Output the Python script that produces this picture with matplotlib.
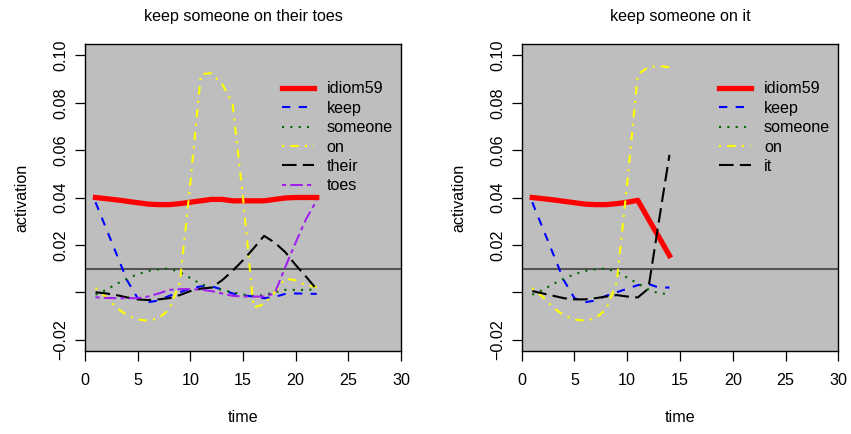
import numpy as np
import matplotlib
matplotlib.use("Agg")
import matplotlib.pyplot as plt

plt.rcParams['font.family'] = ['Liberation Sans', 'DejaVu Sans']

# ---------------- data ----------------
time_left = list(range(1, 23))
idiom_left = [0.0400, 0.0395, 0.0390, 0.0384, 0.0378, 0.0372, 0.0370, 0.0370, 0.0374, 0.0380, 0.0386,
              0.0392, 0.0392, 0.0386, 0.0386, 0.0386, 0.0386, 0.0392, 0.0398, 0.0400, 0.0400, 0.0400]
keep_left = [0.038, 0.027, 0.016, 0.005, -0.0025, -0.0042, -0.0035, -0.0015, 0.0, 0.0015, 0.0025,
             0.0025, 0.0012, -0.0005, -0.0013, -0.0018, -0.0025, -0.002, -0.0007, -0.0005, -0.0006, -0.0007]
someone_left = [-0.001, 0.001, 0.0035, 0.0058, 0.0076, 0.009, 0.0097, 0.010, 0.0085, 0.006, 0.0035,
                0.002, 0.001, 0.0, -0.001, -0.0015, -0.0012, 0.0, 0.001, 0.001, 0.001, 0.0012]
on_left = [0.0018, -0.002, -0.0065, -0.0098, -0.0115, -0.012, -0.011, -0.0072, 0.004, 0.046, 0.092,
           0.0925, 0.088, 0.080, 0.040, -0.0065, -0.005, 0.0, 0.0058, 0.005, 0.003, 0.0022]
their_left = [0.0, -0.0005, -0.0012, -0.0022, -0.003, -0.0033, -0.003, -0.0025, -0.0012, 0.0005, 0.0015,
              0.002, 0.005, 0.009, 0.0135, 0.0185, 0.0238, 0.021, 0.017, 0.0115, 0.0065, 0.0012]
toes_left = [-0.0021, -0.0024, -0.0025, -0.0025, -0.0025, -0.0018, -0.0005, 0.001, 0.0013, 0.0013, 0.0011,
             0.0005, -0.0005, -0.0015, -0.0018, -0.0018, -0.0018, -0.0005, 0.0105, 0.021, 0.031, 0.0388]

time_right = list(range(1, 15))
idiom_right = [0.0400, 0.0395, 0.0390, 0.0384, 0.0378, 0.0372, 0.0370, 0.0370, 0.0374, 0.0380, 0.0388,
               0.0310, 0.0233, 0.0155]
keep_right = [0.038, 0.027, 0.016, 0.005, -0.0025, -0.0042, -0.0035, -0.0015, 0.0, 0.0015, 0.003,
              0.0035, 0.002, 0.002]
someone_right = [-0.001, 0.001, 0.0035, 0.0058, 0.0076, 0.009, 0.0097, 0.010, 0.0085, 0.0062, 0.0037,
                 0.0012, -0.0005, -0.0007]
on_right = [0.0018, -0.002, -0.0065, -0.0098, -0.0115, -0.012, -0.011, -0.0072, 0.004, 0.046, 0.092,
            0.095, 0.0955, 0.095]
it_right = [0.0005, -0.0005, -0.0015, -0.0025, -0.003, -0.003, -0.0025, -0.0018, -0.0012, -0.0018, -0.0022,
            0.0015, 0.030, 0.058]

reference_level = 0.01
x_ticks = [0, 5, 10, 15, 20, 25, 30]
y_ticks = [-0.02, 0.0, 0.02, 0.04, 0.06, 0.08, 0.10]
y_tick_labels = ["\u22120.02", "", "0.02", "0.04", "0.06", "0.08", "0.10"]

titles = ["keep someone on their toes", "keep someone on it"]
labels_left = ["idiom59", "keep", "someone", "on", "their", "toes"]
labels_right = ["idiom59", "keep", "someone", "on", "it"]

# ---------------- styles ----------------
thin = 1.5
styles = {
    "idiom59": dict(color="#FF0000", lw=3.8, ls="-"),
    "keep": dict(color="#0000FF", lw=thin, dashes=(4, 4)),
    "someone": dict(color="#006400", lw=thin, dashes=(1, 3)),
    "on": dict(color="#FFFF00", lw=thin, dashes=(1, 3, 4, 3)),
    "their": dict(color="#000000", lw=thin, dashes=(7, 3)),
    "it": dict(color="#000000", lw=thin, dashes=(7, 3)),
    "toes": dict(color="#A020F0", lw=thin, dashes=(2, 2, 6, 2)),
}

W, H = 851, 434
fig = plt.figure(figsize=(W / 100, H / 100), dpi=100)

def px_axes(x0, x1, y0, y1):
    return fig.add_axes([x0 / W, 1 - y1 / H, (x1 - x0) / W, (y1 - y0) / H])

ax_l = px_axes(85, 401, 44, 351)
ax_r = px_axes(521.7, 838.3, 44, 351)

panels = [
    (ax_l, time_left, [idiom_left, keep_left, someone_left, on_left, their_left, toes_left], labels_left, titles[0]),
    (ax_r, time_right, [idiom_right, keep_right, someone_right, on_right, it_right], labels_right, titles[1]),
]

fs = 11.6
for ax, t, series, labels, title in panels:
    ax.set_facecolor("#BEBEBE")
    ax.axhline(reference_level, color="#555555", lw=1.5, zorder=1)
    for vals, lab in zip(series, labels):
        st = dict(styles[lab])
        ax.plot(t, vals, label=lab, zorder=2, **st)
    ax.set_xlim(0, 30)
    ax.set_ylim(-0.0248, 0.1048)
    ax.set_xticks(x_ticks)
    ax.set_xticklabels([str(v) for v in x_ticks], fontsize=fs)
    ax.set_yticks(y_ticks)
    ax.set_yticklabels(y_tick_labels, fontsize=fs, rotation=90, va="center")
    ax.tick_params(axis="both", length=7, width=0.9, color="black")
    ax.tick_params(axis="x", pad=8.5)
    ax.tick_params(axis="y", pad=5)
    for sp in ax.spines.values():
        sp.set_linewidth(1.0)
        sp.set_color("black")
    ax.set_xlabel("time", fontsize=fs)
    ax.xaxis.label.set_va("center")
    ax.xaxis.set_label_coords(0.5, (351 - 418) / 307)
    ax.set_ylabel("activation", fontsize=fs)
    ax.yaxis.label.set_va("center")
    ax.yaxis.set_label_coords((22 - 85) / 316, 0.5)
    ax.text(0.5, (351 - 16) / 307, title, transform=ax.transAxes, ha="center", va="center", fontsize=fs)
    leg = ax.legend(loc="upper left", bbox_to_anchor=(0.6225, 0.878), frameon=False, fontsize=fs,
                    handlelength=2.0, handletextpad=0.8, labelspacing=0.27, borderpad=0, borderaxespad=0)

fig.savefig("out.png", dpi=100, facecolor="white")
